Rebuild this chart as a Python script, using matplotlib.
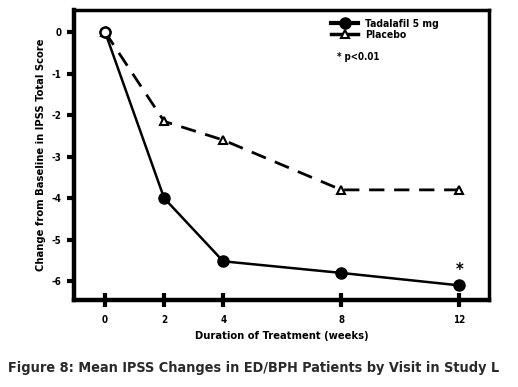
import matplotlib
matplotlib.use("Agg")
import matplotlib.pyplot as plt
from matplotlib.lines import Line2D

plt.rcParams['font.family'] = 'DejaVu Sans'
plt.rcParams['font.stretch'] = 'condensed'
plt.rcParams['font.weight'] = 'bold'
plt.rcParams['axes.labelweight'] = 'bold'
plt.rcParams['axes.unicode_minus'] = False

weeks = [0, 2, 4, 8, 12]
tadalafil = [0, -4.0, -5.52, -5.8, -6.1]
placebo = [0, -2.15, -2.6, -3.8, -3.8]
yticks = [0, -1, -2, -3, -4, -5, -6]

fig = plt.figure(figsize=(5.18, 3.87), dpi=100)
ax = fig.add_axes([0.143, 0.225, 0.801, 0.749])

ax.plot(weeks, placebo, color='black', lw=2, dashes=(5.5, 3.5),
        marker='^', ms=6, mfc='white', mec='black', mew=1.5, zorder=2)
ax.plot(weeks, tadalafil, color='black', lw=1.8,
        marker='o', ms=8, mfc='black', mec='black', zorder=3)
# baseline point is an open circle shared by both groups
ax.plot(weeks[0], tadalafil[0], marker='o', ms=7, mfc='white', mec='black',
        mew=1.6, zorder=4, ls='none')

ax.text(12, -5.72, '*', ha='center', va='center', fontsize=12)

ax.set_xlim(-1.05, 13.0)
ax.set_ylim(-6.45, 0.53)
ax.set_xticks(weeks)
ax.set_yticks(yticks)
ax.tick_params(axis='x', direction='inout', length=10, width=3, labelsize=7, pad=6)
ax.tick_params(axis='y', direction='out', length=5, width=3, labelsize=7, pad=4)
for s in ['left', 'bottom']:
    ax.spines[s].set_linewidth(3.2)
for s in ['top', 'right']:
    ax.spines[s].set_linewidth(2.5)

ax.set_xlabel('Duration of Treatment (weeks)', fontsize=8, labelpad=4)
ax.set_ylabel('Change from Baseline in IPSS Total Score', fontsize=8, labelpad=4)

handles = [
    Line2D([], [], color='black', lw=3, marker='o', ms=8),
    Line2D([], [], color='black', lw=2.5, marker='^', ms=6, mfc='white', mew=1.5),
]
leg = ax.legend(handles, ['Tadalafil 5 mg', 'Placebo'], loc='upper left',
                bbox_to_anchor=(0.61, 0.985), frameon=False, fontsize=7.5,
                handlelength=2.6, handletextpad=0.6, labelspacing=0.15,
                borderaxespad=0.0)
fig.text(0.65, 0.853, '* p<0.01', fontsize=7, va='center')

fig.text(0.016, 0.05, 'Figure 8: Mean IPSS Changes in ED/BPH Patients by Visit in Study L',
         fontsize=10.4, color='#2a2a2a', va='center')

fig.savefig('out.png', dpi=100)
